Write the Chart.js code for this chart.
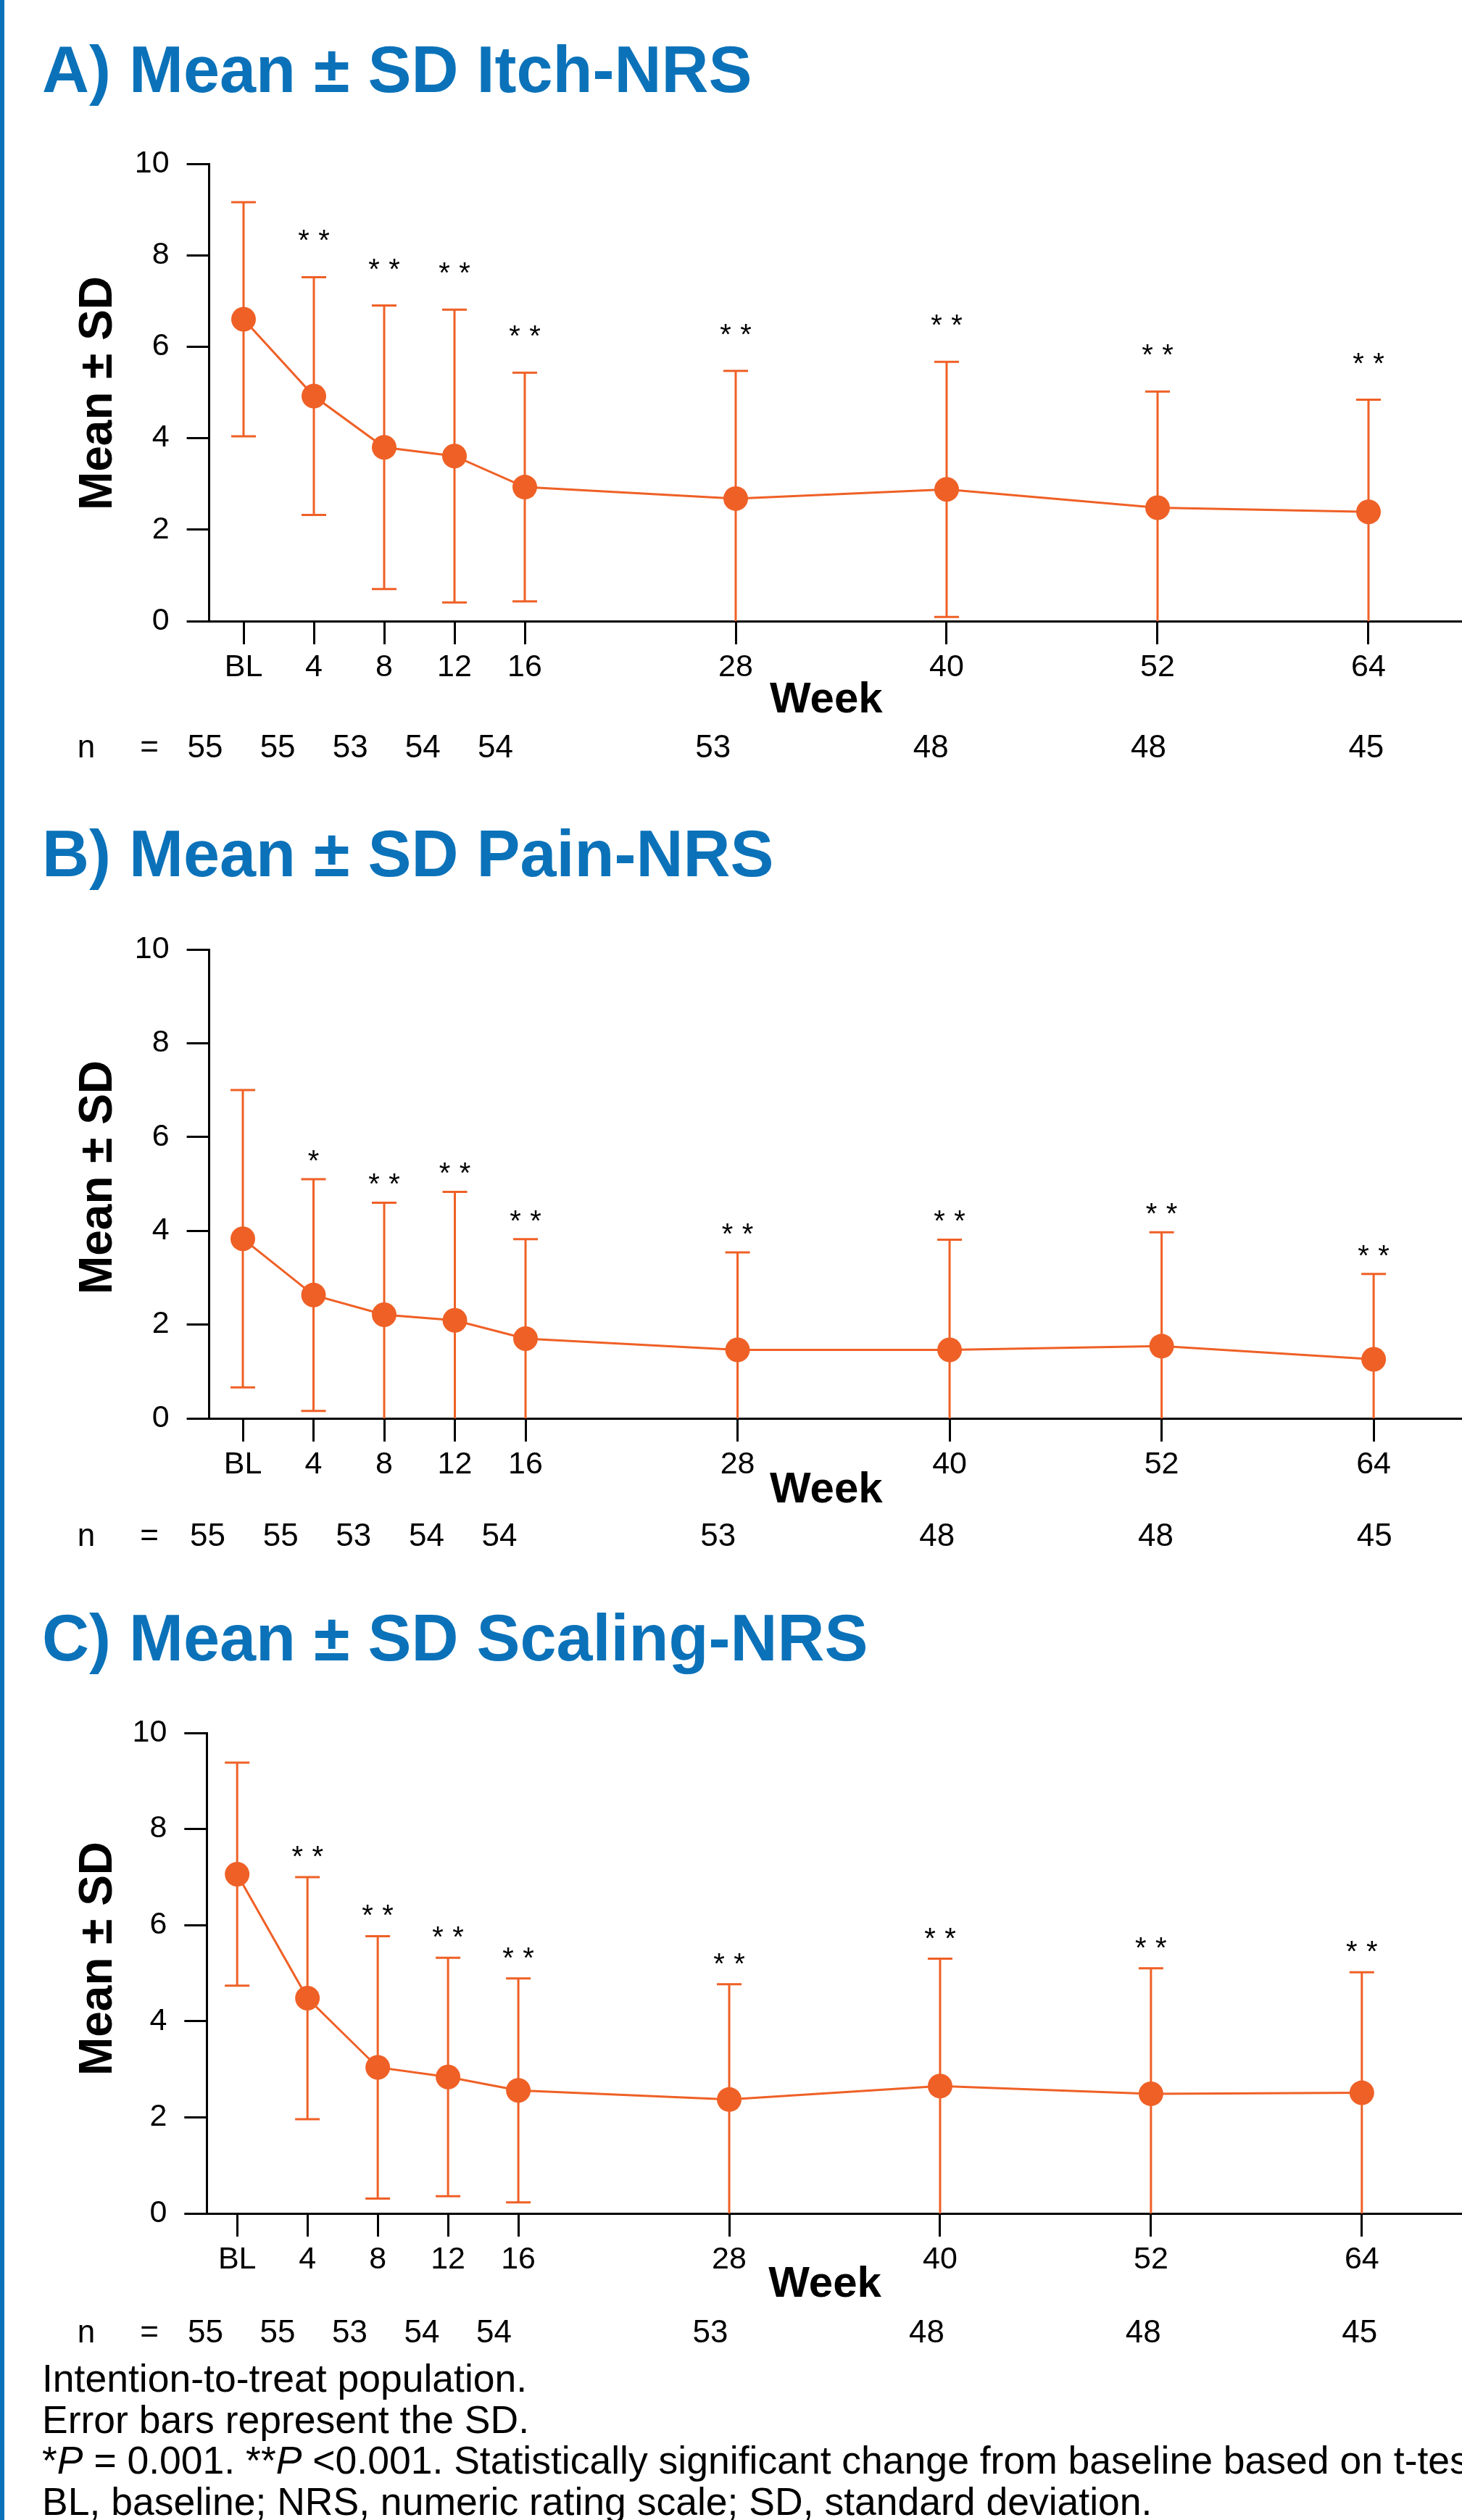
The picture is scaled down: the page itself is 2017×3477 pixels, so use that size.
<!DOCTYPE html>
<html>
<head>
<meta charset="utf-8">
<script src="https://cdn.jsdelivr.net/npm/chart.js@4.4.1/dist/chart.umd.min.js"></script>
<style>
  html, body { margin: 0; padding: 0; background: #fff; }
  #page { position: relative; width: 2017px; height: 3477px; overflow: hidden; background: #fff;
          font-family: "Liberation Sans", Arial, sans-serif; }
  #bar { position: absolute; left: 0; top: 0; width: 6px; height: 3477px; background: #0b72b9; }
  .title { position: absolute; left: 58px; font-weight: bold; font-size: 90px; line-height: 1;
           color: #0b72b9; white-space: nowrap; }
  .note { position: absolute; left: 58px; font-size: 53.5px; line-height: 1; color: #000; white-space: nowrap; }
  canvas { position: absolute; left: 0; }
</style>
</head>
<body>
<div id="page">
  <div id="bar"></div>
  <div class="title" style="top:51px">A) Mean ± SD Itch-NRS</div>
  <canvas id="itch" width="2017" height="930" style="top:150px"></canvas>
  <div class="title" style="top:1133px">B) Mean ± SD Pain-NRS</div>
  <canvas id="pain" width="2017" height="930" style="top:1230px"></canvas>
  <div class="title" style="top:2215px">C) Mean ± SD Scaling-NRS</div>
  <canvas id="scaling" width="2017" height="940" style="top:2310px"></canvas>
  <div class="note" style="top:3255px">Intention-to-treat population.</div>
  <div class="note" style="top:3312px">Error bars represent the SD.</div>
  <div class="note" style="top:3368px">*<i>P</i> = 0.001. **<i>P</i> &lt;0.001. Statistically significant change from baseline based on t-test.</div>
  <div class="note" style="top:3425px">BL, baseline; NRS, numeric rating scale; SD, standard deviation.</div>
</div>
<script>
// weeks on the x axis, BL = week 0
const weeks = [0, 4, 8, 12, 16, 28, 40, 52, 64];
const weekLabels = ['BL', '4', '8', '12', '16', '28', '40', '52', '64'];
const nPatients = [55, 55, 53, 54, 54, 53, 48, 48, 45];

const itchMean = [6.60, 4.92, 3.80, 3.61, 2.93, 2.68, 2.88, 2.48, 2.39];
const itchSD = [2.56, 2.60, 3.10, 3.20, 2.50, 2.79, 2.79, 2.54, 2.45];
const itchStars = ['', '**', '**', '**', '**', '**', '**', '**', '**'];

const painMean = [3.83, 2.63, 2.21, 2.09, 1.70, 1.46, 1.46, 1.54, 1.26];
const painSD = [3.17, 2.47, 2.39, 2.74, 2.12, 2.08, 2.35, 2.43, 1.82];
const painStars = ['', '*', '**', '**', '**', '**', '**', '**', '**'];

const scalingMean = [7.06, 4.48, 3.04, 2.84, 2.56, 2.37, 2.65, 2.49, 2.51];
const scalingSD = [2.32, 2.52, 2.73, 2.48, 2.33, 2.40, 2.65, 2.61, 2.51];
const scalingStars = ['', '**', '**', '**', '**', '**', '**', '**', '**'];

const ORANGE = '#ef6026';
const FONT = '"Liberation Sans", Arial, sans-serif';

const extras = {
    id: 'extras',
    beforeDatasetsDraw(chart, args, opts) {
        const ctx = chart.ctx;
        const x = chart.scales.x, y = chart.scales.y;
        ctx.save();
        ctx.strokeStyle = ORANGE;
        ctx.lineWidth = 3;
        opts.mean.forEach((m, i) => {
            const px = x.getPixelForValue(weeks[i]);
            const hi = m + opts.sd[i];
            const lo = m - opts.sd[i];
            const yHi = y.getPixelForValue(hi);
            const yLo = y.getPixelForValue(Math.max(lo, 0));
            ctx.beginPath();
            ctx.moveTo(px, yHi);
            ctx.lineTo(px, yLo);
            ctx.moveTo(px - 17, yHi);
            ctx.lineTo(px + 17, yHi);
            // no lower cap when the bar is cut off at 0
            if (lo > 0) {
                ctx.moveTo(px - 17, yLo);
                ctx.lineTo(px + 17, yLo);
            }
            ctx.stroke();
        });
        ctx.restore();
    },
    afterDraw(chart, args, opts) {
        const ctx = chart.ctx;
        const x = chart.scales.x, y = chart.scales.y, xn = chart.scales.xn;
        const area = chart.chartArea;
        ctx.save();
        ctx.fillStyle = '#000';

        // significance stars above the upper SD cap
        ctx.font = '40px ' + FONT;
        ctx.textAlign = 'center';
        ctx.textBaseline = 'alphabetic';
        opts.stars.forEach((s, i) => {
            if (!s) return;
            const px = x.getPixelForValue(weeks[i]);
            const cy = y.getPixelForValue(opts.mean[i] + opts.sd[i]) - opts.starGap;
            if (s === '**') {
                ctx.fillText('*', px - 14, cy + 23);
                ctx.fillText('*', px + 14, cy + 23);
            } else {
                ctx.fillText('*', px, cy + 23);
            }
        });

        // n row
        ctx.font = '44px ' + FONT;
        const nBase = area.bottom + opts.nRow + 16;
        ctx.fillText('n', 119, nBase);
        ctx.fillText('=', 206, nBase);
        nPatients.forEach((n, i) => {
            ctx.fillText(String(n), xn.getPixelForValue(weeks[i]), nBase);
        });

        // x axis title
        ctx.font = 'bold 60px ' + FONT;
        ctx.fillText('Week', (area.left + area.right) / 2 - 13, area.bottom + opts.weekDy + 21);

        // y axis title
        ctx.translate(154, (area.top + area.bottom) / 2 + opts.yTitleDy);
        ctx.rotate(-Math.PI / 2);
        ctx.font = 'bold 64px ' + FONT;
        ctx.fillText('Mean ± SD', 0, 0);
        ctx.restore();
    }
};

function makePanel(id, mean, sd, stars, lay) {
    const axisFont = { family: FONT, size: 43 };
    const padTop = lay.areaTop - lay.top;
    const xAxisHeight = lay.top + lay.height - lay.areaBottom;
    return new Chart(document.getElementById(id), {
        type: 'line',
        data: {
            datasets: [{
                data: weeks.map((w, i) => ({ x: w, y: mean[i] })),
                xAxisID: 'x',
                yAxisID: 'y',
                borderColor: ORANGE,
                backgroundColor: ORANGE,
                borderWidth: 3,
                pointRadius: 17,
                pointHoverRadius: 17,
                pointBorderWidth: 0,
                pointBackgroundColor: ORANGE,
                tension: 0,
                clip: false
            }]
        },
        options: {
            responsive: false,
            animation: false,
            devicePixelRatio: 1,
            layout: { autoPadding: false, padding: { top: padTop, left: 0, right: 0, bottom: 0 } },
            plugins: {
                legend: { display: false },
                tooltip: { enabled: false },
                extras: {
                    mean: mean, sd: sd, stars: stars,
                    starGap: lay.starGap, nRow: lay.nRow, weekDy: lay.weekDy, yTitleDy: lay.yTitleDy
                }
            },
            scales: {
                x: {
                    type: 'linear',
                    position: 'bottom',
                    min: lay.xMin,
                    max: lay.xMax,
                    afterBuildTicks: s => { s.ticks = weeks.map(v => ({ value: v })); },
                    afterFit: s => { s.height = xAxisHeight; },
                    ticks: {
                        autoSkip: false, maxRotation: 0, minRotation: 0, padding: 6,
                        color: '#000', font: axisFont,
                        callback: v => weekLabels[weeks.indexOf(v)]
                    },
                    grid: { drawOnChartArea: false, drawTicks: true, tickLength: 32, tickWidth: 3, tickColor: '#000' },
                    border: { display: true, color: '#000', width: 3 }
                },
                // hidden scale used to place the n row, which is spaced slightly differently
                xn: { type: 'linear', display: false, position: 'bottom', min: lay.nMin, max: lay.nMax },
                y: {
                    min: 0,
                    max: 10,
                    afterFit: s => { s.width = lay.axisLeft; },
                    ticks: { stepSize: 2, padding: 24, color: '#000', font: axisFont },
                    grid: { drawOnChartArea: false, drawTicks: true, tickLength: 31, tickWidth: 3, tickColor: '#000' },
                    border: { display: true, color: '#000', width: 3 }
                }
            }
        },
        plugins: [extras]
    });
}

makePanel('itch', itchMean, itchSD, itchStars, {
    top: 150, height: 930, areaTop: 226, areaBottom: 857, axisLeft: 288.6,
    xMin: -1.955, xMax: 69.32, nMin: 0.224, nMax: 69.28,
    starGap: 60, nRow: 172, weekDy: 105, yTitleDy: 1
});
makePanel('pain', painMean, painSD, painStars, {
    top: 1230, height: 930, areaTop: 1310, areaBottom: 1957, axisLeft: 288.6,
    xMin: -1.904, xMax: 69.0, nMin: 0.08, nMax: 68.8,
    starGap: 35, nRow: 160, weekDy: 95, yTitleDy: -9
});
makePanel('scaling', scalingMean, scalingSD, scalingStars, {
    top: 2310, height: 940, areaTop: 2391, areaBottom: 3054, axisLeft: 285.3,
    xMin: -1.728, xMax: 69.7, nMin: 0.076, nMax: 69.68,
    starGap: 38, nRow: 162, weekDy: 94, yTitleDy: -20
});
</script>
</body>
</html>
